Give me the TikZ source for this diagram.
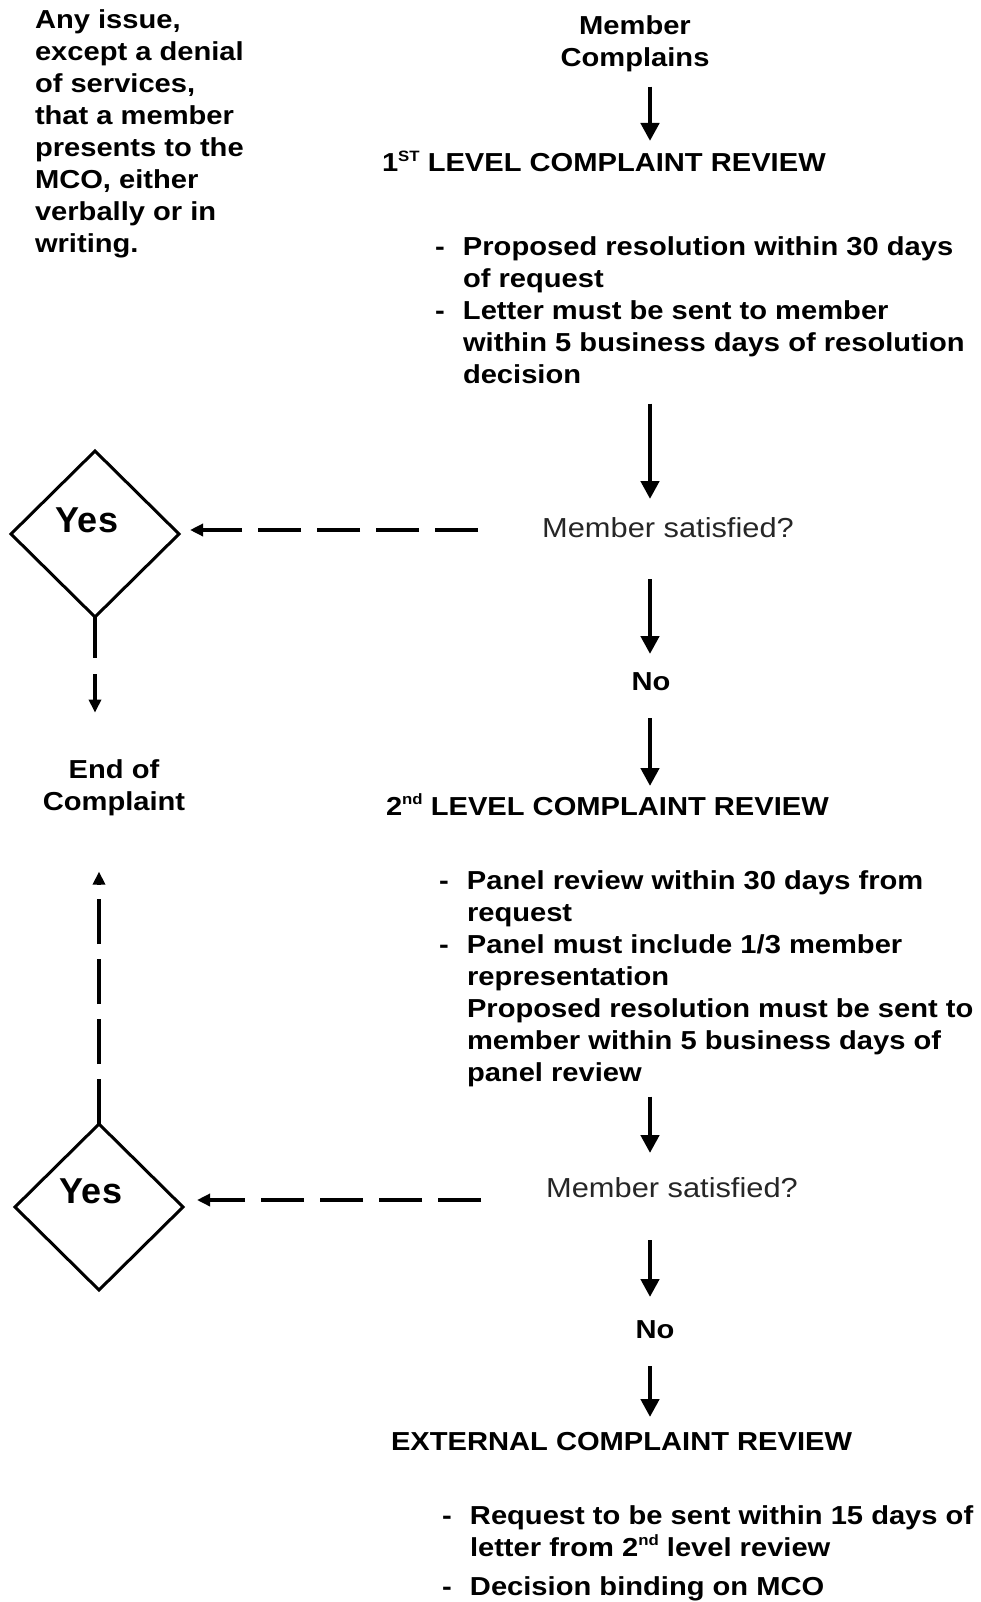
\documentclass[tikz,border=0pt]{standalone}
\usepackage{fontspec}
\setmainfont{Liberation Sans}[FakeStretch=1.12]
\newfontfamily\yesfont{Liberation Sans}
\newfontfamily\askfont{Liberation Sans}[FakeStretch=1.12]
\usetikzlibrary{arrows.meta,shapes.geometric}

% raised small letters for ordinals
\newcommand\ordsup[1]{\raisebox{0.42em}{\fontsize{15}{15}\selectfont #1}}
% bullet dash with hanging indent
\newcommand\bl{\makebox[28pt][l]{-}}
\newcommand\ind{\hspace*{28pt}}

\begin{document}
\begin{tikzpicture}[x=1pt,y=-1pt,
  every node/.style={inner sep=0pt, outer sep=0pt},
  body/.style={font=\fontsize{26}{32}\selectfont\bfseries},
  heading/.style={body, anchor=base west, text height=18pt, text depth=5pt},
  question/.style={anchor=base, text height=19pt, text depth=5pt,
    text=black!85, font=\askfont\fontsize{27.5}{32}\selectfont},
  answer/.style={body, anchor=base, text height=18pt, text depth=5pt},
  decision/.style={shape=diamond, draw, line width=3pt, fill=white,
    minimum width=168pt, minimum height=166pt},
  yeslabel/.style={font=\yesfont\bfseries\fontsize{36}{36}\selectfont},
  flow/.style={line width=4.5pt, -{Triangle[length=18pt,width=18pt]}},
  yesflow/.style={line width=4pt, -{Triangle[length=13pt,width=12pt]}}
]
\useasboundingbox[fill=white] (0,0) rectangle (980,1602);

\coordinate (spine) at (650,0);

% definition text
\node[body, anchor=base west] (defn) at (35,29)
  {\parbox[t]{260pt}{Any issue,\\except a denial\\of services,\\that a member\\presents to the\\MCO, either\\verbally or in\\writing.}};

% main column
\node[body, anchor=base] (member) at (635,35)
  {\begin{tabular}[t]{@{}c@{}}Member\\Complains\end{tabular}};
\node[heading] (lvl1) at (382,172) {1\ordsup{ST} LEVEL COMPLAINT REVIEW};
\node[body, anchor=base west] (b1) at (435,256)
  {\parbox[t]{560pt}{\strut\bl Proposed resolution within 30 days\\
   \ind of request\\
   \bl Letter must be sent to member\\
   \ind within 5 business days of resolution\\
   \ind decision\strut}};
\node[question] (sat1) at (668,537) {Member satisfied?};
\node[answer] (no1) at (651,690) {No};
\node[heading] (lvl2) at (386,815) {2\ordsup{nd} LEVEL COMPLAINT REVIEW};
\node[body, anchor=base west] (b2) at (439,889)
  {\parbox[t]{560pt}{\strut\bl Panel review within 30 days from\\
   \ind request\\
   \bl Panel must include 1/3 member\\
   \ind representation\\
   \ind Proposed resolution must be sent to\\
   \ind member within 5 business days of\\
   \ind panel review\strut}};
\node[question] (sat2) at (672,1197) {Member satisfied?};
\node[answer] (no2) at (655,1338) {No};
\node[heading] (ext) at (391,1450) {EXTERNAL COMPLAINT REVIEW};
\node[body, anchor=base west] (b3) at (442,1524)
  {\parbox[t]{560pt}{\strut\bl Request to be sent within 15 days of\\
   \ind letter from 2\ordsup{nd} level review\\[7pt]
   \bl Decision binding on MCO}};

% left column
\node[decision] (dia1) at (95,534) {};
\node[yeslabel] (yes1) at (87,520) {Yes};
\node[body, anchor=base] (endc) at (114,778)
  {\begin{tabular}[t]{@{}c@{}}End of\\Complaint\end{tabular}};
\node[decision] (dia2) at (99,1207) {};
\node[yeslabel] (yes2) at (91,1191) {Yes};

% main flow
\draw[flow, shorten <=10pt, shorten >=13pt] (member.south -| spine) -- (lvl1.north -| spine);
\draw[flow, shorten <=10pt, shorten >=19pt] (b1.south -| spine) -- (sat1.north -| spine);
\draw[flow, shorten <=37pt, shorten >=18pt] (sat1.south -| spine) -- (no1.north -| spine);
\draw[flow, shorten <=23pt, shorten >=11pt] (no1.south -| spine) -- (lvl2.north -| spine);
\draw[flow, shorten <=6pt, shorten >=25pt] (b2.south -| spine) -- (sat2.north -| spine);
\draw[flow, shorten <=38pt, shorten >=23pt] (sat2.south -| spine) -- (no2.north -| spine);
\draw[flow, shorten <=23pt, shorten >=15pt] (no2.south -| spine) -- (ext.north -| spine);

% satisfied branches
\draw[yesflow, dash pattern=on 43pt off 16pt, shorten <=64pt, shorten >=11pt]
  (sat1.west) -- (sat1.west -| dia1.east);
\draw[yesflow, dash pattern=on 43pt off 16pt, shorten <=65pt, shorten >=14pt]
  ([yshift=-10pt]sat2.west) -- ([yshift=-10pt]sat2.west -| dia2.east);
\draw[yesflow, dash pattern=on 41pt off 16pt, shorten >=43pt]
  (dia1.south) -- (dia1.south |- endc.north);
\draw[yesflow, dash pattern=on 45pt off 15pt, shorten >=52pt]
  (dia2.north) -- (dia2.north |- endc.south);
\end{tikzpicture}
\end{document}
